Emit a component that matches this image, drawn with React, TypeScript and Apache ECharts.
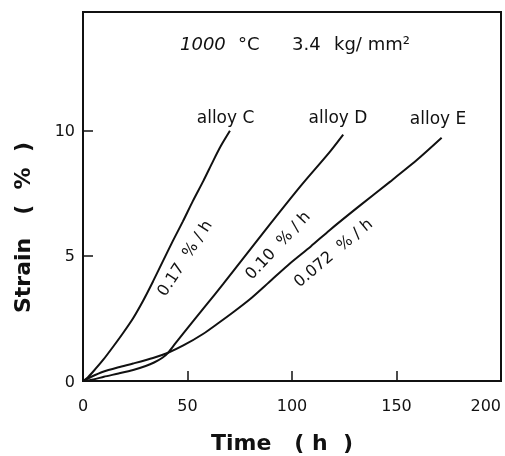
import React, { useEffect, useRef } from "react";
import * as echarts from "echarts";

// Time (h) and strain (%)
const alloyCTime = [0, 2, 4.8, 9.6, 14.4, 19.1, 23.9, 28.7, 33.5, 38.3, 43, 47.8, 52.6, 57.6, 62.3, 66, 70.3];
const alloyCStrain = [0, 0.12, 0.37, 0.84, 1.37, 1.91, 2.5, 3.2, 3.98, 4.8, 5.6, 6.38, 7.2, 8.0, 8.8, 9.4, 10.0];

const alloyDTime = [0, 5, 10, 17, 24, 30, 34, 38, 40.7, 44, 48, 53, 59, 67, 76, 89.5, 104, 118, 124.5];
const alloyDStrain = [0, 0.06, 0.17, 0.3, 0.44, 0.6, 0.74, 0.93, 1.13, 1.48, 1.9, 2.42, 3.04, 3.87, 4.83, 6.27, 7.78, 9.15, 9.85];

const alloyETime = [0, 4, 9.6, 17, 24, 33.5, 40.7, 48, 57.4, 65, 72, 80, 89, 99, 109, 118, 132, 147, 160, 171.6];
const alloyEStrain = [0, 0.17, 0.37, 0.55, 0.7, 0.92, 1.13, 1.42, 1.88, 2.33, 2.76, 3.28, 3.95, 4.7, 5.38, 6.03, 6.98, 7.97, 8.85, 9.72];

const seriesNames = ["alloy C", "alloy D", "alloy E"];
const rateLabels = ["0.17  % / h", "0.10  % / h", "0.072  % / h"];
// label anchors [time, strain] and rotation (deg)
const nameAnchors = [[68.2, 10.54], [122, 10.54], [169.9, 10.52]];
const rateAnchors = [[48.5, 4.92, 57], [93, 5.44, 47], [119.5, 5.14, 40]];

const xTicks = { min: 0, max: 200, interval: 50 };
const yTicks = { min: 0, max: 14.75, interval: 5 };

const FONT = "DejaVu Sans";
const INK = "#111";

function pairs(t: number[], s: number[]) {
  return t.map((v, i) => [v, s[i]]);
}

export default function App() {
  const ref = useRef<HTMLDivElement>(null);
  useEffect(() => {
    if (!ref.current) return;
    const chart = echarts.init(ref.current, undefined, { renderer: "svg", width: 505, height: 456 });
    const datasets = [
      pairs(alloyCTime, alloyCStrain),
      pairs(alloyDTime, alloyDStrain),
      pairs(alloyETime, alloyEStrain),
    ];
    const series = datasets.map((d, i) => ({
      type: "line",
      name: seriesNames[i],
      data: d,
      smooth: 0.25,
      showSymbol: false,
      symbol: "none",
      lineStyle: { color: INK, width: 2 },
      markPoint: {
        symbol: "circle",
        symbolSize: 0,
        itemStyle: { color: "transparent" },
        data: [
          {
            coord: nameAnchors[i],
            label: {
              show: true,
              position: "inside",
              formatter: seriesNames[i],
              fontFamily: FONT,
              fontSize: 17,
              color: INK,
            },
          },
          {
            coord: [rateAnchors[i][0], rateAnchors[i][1]],
            label: {
              show: true,
              position: "inside",
              formatter: rateLabels[i],
              rotate: rateAnchors[i][2],
              fontFamily: FONT,
              fontSize: 16,
              color: INK,
            },
          },
        ],
      },
    }));
    chart.setOption({
      animation: false,
      grid: {
        left: 83,
        right: 4,
        top: 12,
        bottom: 75,
        show: true,
        borderColor: INK,
        borderWidth: 2,
        containLabel: false,
        outerBoundsMode: "none",
      },
      xAxis: {
        type: "value",
        ...xTicks,
        axisLine: { show: true, lineStyle: { color: INK, width: 2 } },
        axisTick: { show: true, inside: true, length: 10, lineStyle: { color: INK, width: 1.5 } },
        axisLabel: { color: INK, fontFamily: FONT, fontSize: 16, margin: 16, alignMaxLabel: "right" },
        splitLine: { show: false },
      },
      yAxis: {
        type: "value",
        ...yTicks,
        axisLine: { show: true, lineStyle: { color: INK, width: 2 } },
        axisTick: { show: true, inside: true, length: 10, lineStyle: { color: INK, width: 1.5 } },
        axisLabel: {
          color: INK,
          fontFamily: FONT,
          fontSize: 16,
          margin: 8,
          showMaxLabel: false,
          formatter: (v: number) => (v % 5 === 0 ? String(v) : ""),
        },
        splitLine: { show: false },
      },
      graphic: [
        {
          type: "text",
          x: 22,
          y: 313,
          rotation: Math.PI / 2,
          style: {
            text: "Strain   (  %  )",
            fontFamily: FONT,
            fontWeight: "bold",
            fontSize: 22,
            fill: INK,
            align: "left",
            verticalAlign: "middle",
          },
        },
        {
          type: "text",
          x: 211,
          y: 442,
          style: {
            text: "Time   ( h  )",
            fontFamily: FONT,
            fontWeight: "bold",
            fontSize: 22,
            fill: INK,
            align: "left",
            verticalAlign: "middle",
          },
        },
        {
          type: "text",
          x: 180,
          y: 43,
          style: { text: "1000", fontFamily: FONT, fontSize: 18, fontStyle: "italic", fill: INK, align: "left", verticalAlign: "middle" },
        },
        {
          type: "text",
          x: 238,
          y: 43,
          style: { text: "°C", fontFamily: FONT, fontSize: 18, fill: INK, align: "left", verticalAlign: "middle" },
        },
        {
          type: "text",
          x: 292,
          y: 43,
          style: { text: "3.4", fontFamily: FONT, fontSize: 18, fill: INK, align: "left", verticalAlign: "middle" },
        },
        {
          type: "text",
          x: 334,
          y: 43,
          style: { text: "kg/ mm²", fontFamily: FONT, fontSize: 18, fill: INK, align: "left", verticalAlign: "middle" },
        },
      ],
      series,
    });
    return () => chart.dispose();
  }, []);
  return <div ref={ref} style={{ width: 505, height: 456, position: "fixed", left: 0, top: 0 }} />;
}
